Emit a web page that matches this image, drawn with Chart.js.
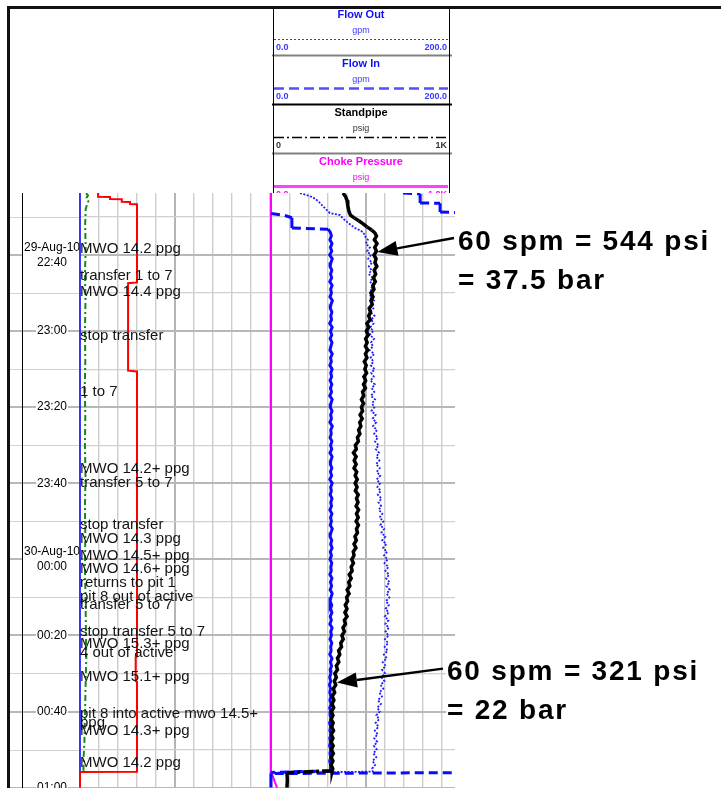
<!DOCTYPE html>
<html>
<head>
<meta charset="utf-8">
<script src="https://cdn.jsdelivr.net/npm/chart.js@4.4.1/dist/chart.umd.min.js"></script>
<style>
html,body{margin:0;padding:0;background:#fff;overflow:hidden;width:721px;height:788px;}
canvas{position:absolute;top:0;}
#left{left:0;}
#right{left:262px;}
.frame{position:absolute;background:#111;z-index:3;}
</style>
</head>
<body>
<canvas id="left" width="272" height="800"></canvas>
<canvas id="right" width="459" height="800"></canvas>
<div class="frame" style="left:7px;top:6px;width:714px;height:3px"></div>
<div class="frame" style="left:7px;top:6px;width:3px;height:782px"></div>
<div class="frame" style="left:22px;top:193px;width:1px;height:595px;background:#000"></div>
<script>
// ---------- time axis (minutes after 22:00 on 29-Aug-10) ----------
const timeMin = 23.7;
const timeMax = 180.1;
const timeTickValues = [30, 40, 50, 60, 70, 80, 90, 100, 110, 120, 130, 140, 150, 160, 170, 180];
const timeTickLabels = ['', ['29-Aug-10', '22:40'], '', '23:00', '', '23:20', '', '23:40', '',
  ['30-Aug-10', '00:00'], '', '00:20', '', '00:40', '', '01:00'];

// ---------- track scales ----------
const leftGridValues = [0, 10, 20, 30, 40, 50, 60, 70, 80, 90, 100];
const rightGridGpm = [0, 20, 40, 60, 80, 100, 120, 140, 160, 180];
const flowAxisMax = 193.7;   // gpm at right edge of visible track
const psiAxisMax = 968.4;    // psi at right edge of visible track

// ---------- header ----------
const headerNames = ['Flow Out', 'Flow In', 'Standpipe', 'Choke Pressure'];
const headerUnits = ['gpm', 'gpm', 'psig', 'psig'];
const headerScaleMin = ['0.0', '0.0', '0', '0.0'];
const headerScaleMax = ['200.0', '200.0', '1K', '1.0K'];

// ---------- shared 1-minute sample times ----------
const bodyMinutes = [35,36,37,38,39,40,41,42,43,44,45,46,47,48,49,50,51,52,53,54,55,56,57,58,59,60,
  61,62,63,64,65,66,67,68,69,70,71,72,73,74,75,76,77,78,79,80,81,82,83,84,85,86,87,88,89,90,
  91,92,93,94,95,96,97,98,99,100,101,102,103,104,105,106,107,108,109,110,111,112,113,114,115,
  116,117,118,119,120,121,122,123,124,125,126,127,128,129,130,131,132,133,134,135,136,137,138,
  139,140,141,142,143,144,145,146,147,148,149,150,151,152,153,154,155,156,157,158,159,160,161,
  162,163,164,165,166,167,168,169,170,171,172,173,174,175];

// ---------- Standpipe pressure (psi) ----------
const sppHeadTime = [23.72, 24.6, 25.6, 27.0, 28.5, 29.5, 30.3, 31.0, 31.8, 32.6, 33.4, 34.2];
const sppHeadPsi  = [379, 392, 400, 404, 410, 418, 440, 462, 485, 505, 530, 547];
const sppBodyPsi = [
  555,544,558,546,555,542,553,547,557,543,
  551,539,549,536,542,526,537,526,533,517,
  524,514,522,505,514,502,512,498,506,497,
  509,497,505,491,501,494,503,489,498,487,
  497,482,488,476,487,476,482,469,480,467,
  473,461,468,455,460,444,449,434,448,438,
  448,437,451,443,454,443,453,444,459,450,
  458,448,461,450,459,448,460,450,455,442,
  449,437,447,433,437,425,434,422,427,412,
  422,409,415,401,411,398,403,391,400,389,
  400,386,392,379,386,373,380,367,371,356,
  362,350,357,344,350,336,344,333,341,328,
  335,322,331,321,330,318,326,316,327,319,
  329,317,326,316,327,318,328,317,326,316,
  325];
const sppTailTime = [175.6, 175.9, 176.1, 178, 180];
const sppTailPsi  = [322, 150, 84, 86, 84];

// ---------- Flow In (gpm, as displayed on the wrapped 0-200 track) ----------
const flowInHeadTime = [23.72, 23.9, 26.3, 26.4, 28.7, 28.8, 28.95, 29.0, 29.1, 29.5, 30.2, 32.9, 33.2, 33.8, 34.4];
const flowInHeadGpm  = [139, 157, 157, 178, 178, 192, 205, null, 0, 13, 22, 22, 60, 62, 63];
const flowInBodyGpm = [
  63.5,62.0,64.2,62.6,63.9,61.8,64.5,63.0,62.2,64.0,
  62.7,63.8,61.9,64.3,62.8,63.6,62.1,64.6,63.1,62.4,
  64.1,62.9,63.7,61.8,64.4,62.6,63.9,62.3,64.2,63.0,
  62.1,64.5,62.7,63.5,62.0,64.3,62.9,63.8,62.2,64.0,
  62.6,63.7,61.9,64.4,63.1,62.4,64.2,62.8,63.6,62.0,
  64.5,62.9,63.4,62.2,64.1,62.7,63.9,62.1,64.3,63.0,
  62.5,64.0,62.6,63.8,61.9,64.4,62.8,63.5,62.3,64.2,
  62.9,63.7,62.0,64.1,62.7,63.6,62.4,64.5,63.0,62.2,
  63.9,62.8,64.3,62.5,63.6,62.1,64.0,62.9,63.4,62.0,
  64.2,62.6,63.8,62.3,64.4,63.1,62.2,63.9,62.7,64.1,
  62.4,63.5,62.0,64.3,62.9,63.6,62.1,64.0,62.8,63.3,
  61.9,64.2,62.6,63.7,62.3,63.0,61.8,62.9,61.6,62.7,
  61.9,63.1,62.0,63.3,61.8,62.9,62.2,63.4,61.7,62.8,
  62.0,63.2,61.9,62.6,61.7,62.9,62.1,63.0,61.8,62.7,
  62.2];
const flowInTailTime = [175.6, 176.0, 176.02, 176.05, 176.3, 180];
const flowInTailGpm  = [63, 0, null, 205, 0, 0];

// ---------- Flow Out (gpm, displayed) ----------
const flowOutHeadTime = [23.72, 24.2, 24.8, 25.8, 26.9, 28.0, 28.97, 29.5, 30.4, 31.3, 32.1, 32.9, 33.5, 34.0, 34.5];
const flowOutHeadGpm  = [30.5, 36.8, 44, 49.5, 53.7, 58, 62, 72.6, 75.8, 80, 84, 88.4, 93.7, 96.8, 98];
const flowOutBodyGpm = [
  98.5,102.0,99.8,104.1,101.2,105.0,102.3,106.4,103.0,105.8,
  102.9,107.2,104.1,108.0,104.5,107.3,103.6,108.4,105.0,107.9,
  104.2,109.0,105.6,108.1,104.4,107.7,103.9,108.5,105.2,107.4,
  103.8,108.6,104.9,107.8,105.0,109.1,105.5,108.2,104.6,109.4,
  106.0,108.7,105.1,109.6,106.3,108.9,105.7,110.2,107.0,110.8,
  107.4,111.5,108.6,112.4,109.5,113.3,110.2,113.8,110.9,114.1,
  110.6,114.5,111.3,115.0,111.2,114.8,112.0,115.6,112.4,116.3,
  113.1,116.0,113.5,117.2,114.3,118.4,115.0,119.1,116.2,120.3,
  117.1,121.4,118.0,122.2,118.9,122.8,119.5,123.6,120.4,124.3,
  121.2,124.9,121.5,125.0,121.8,124.6,121.0,124.2,120.6,123.9,
  119.8,123.7,120.3,124.1,120.5,123.8,119.9,123.4,119.6,122.9,
  118.8,121.9,117.6,120.8,116.9,120.1,116.2,119.4,115.3,118.2,
  114.0,116.8,112.5,115.7,111.8,114.6,110.9,113.9,110.1,113.2,
  109.3,112.4,108.6,111.9,108.2,111.3,107.6,110.8,106.9,109.7,
  106.5];
const flowOutTailTime = [175.8, 176.1, 180];
const flowOutTailGpm  = [107, 0, 0];

// ---------- Choke pressure (psi) ----------
const chokeTime = [23.72, 176.0, 176.8, 178.5, 180];
const chokePsi  = [0, 0, 8, 20, 32];

// ---------- Left track (0-100 scale) ----------
const redTime = [23.72, 24.7, 24.75, 25.3, 25.35, 26.0, 26.05, 26.6, 26.65, 47.2, 47.4, 70.4, 70.6,
  145.5, 145.7, 152.0, 152.2, 175.8, 175.9, 180];
const redVal  = [9.5, 9.5, 15.8, 15.8, 22, 22, 26.3, 26.3, 30, 30, 25.3, 25.3, 30,
  30, 29.3, 29.3, 30, 30, 0, 0];
const greenTime = [23.72, 24.3, 25.0, 25.8, 26.8, 28.0, 32, 38, 45, 52, 60, 68, 75, 82, 90, 98, 106,
  114, 122, 130, 138, 146, 154, 162, 168, 172, 175.8];
const greenVal  = [3.2, 4.2, 3.4, 4.4, 3.6, 3.0, 2.7, 3.0, 2.6, 2.9, 2.6, 2.8, 2.5, 2.8, 2.6, 2.9, 2.6,
  2.8, 2.6, 2.9, 3.1, 3.3, 2.9, 2.6, 2.3, 1.9, 1.8];
const blueTime = [23.72, 180];
const blueVal  = [0, 0];

// ---------- Event comments ----------
const commentTimes = [38.4, 45.5, 49.7, 61.3, 76.0, 96.2, 99.87, 110.9, 114.58, 119.04, 122.46, 126.13,
  129.81, 131.91, 139.0, 142.15, 144.52, 150.82, 160.54, 162.9, 165.0, 173.4];
const commentTexts = ['MWO 14.2 ppg', 'transfer 1 to 7', 'MWO 14.4 ppg', 'stop transfer', '1 to 7',
  'MWO 14.2+ ppg', 'transfer 5 to 7', 'stop transfer', 'MWO 14.3 ppg', 'MWO 14.5+ ppg', 'MWO 14.6+ ppg',
  'returns to pit 1', 'pit 8 out of active', 'transfer 5 to 7', 'stop transfer 5 to 7', 'MWO 15.3+ ppg',
  '4 out of active', 'MWO 15.1+ ppg', 'pit 8 into active mwo 14.5+', 'ppg', 'MWO 14.3+ ppg', 'MWO 14.2 ppg'];

// ---------- Callouts ----------
const calloutTime = [39.2, 152.4];
const calloutPsi = [560, 347];
const calloutLine1 = ['60 spm = 544 psi', '60 spm = 321 psi'];
const calloutLine2 = ['= 37.5 bar', '= 22 bar'];

// ====================================================================
const FONT = '"Liberation Sans", Arial, Helvetica, sans-serif';
Chart.defaults.font.family = FONT;
Chart.defaults.animation = false;

const ptsOf = (times, vals) => times.map((t, i) => ({ x: vals[i], y: t }));
const flatDash = pattern => c => (Math.abs(c.p1.x - c.p0.x) > 1.5 * Math.abs(c.p1.y - c.p0.y) ? pattern : undefined);

const isMajorTime = v => Math.round(v) % 20 === 0;
const hGridColor = c => (c.tick && isMajorTime(c.tick.value)) ? '#b8b8b8' : '#d0d0d0';
const hGridWidth = c => (c.tick && isMajorTime(c.tick.value)) ? 2 : 1.2;
const TICK_FONT_SIZE = 12, TICK_LINE_HEIGHT = 1.3;

function timeAxis(showLabels) {
  return {
    type: 'linear', position: 'left', reverse: true, min: timeMin, max: timeMax,
    afterBuildTicks: s => { s.ticks = timeTickValues.map(v => ({ value: v })); },
    afterFit: s => { s.width = showLabels ? 58 : 0; },
    border: { display: false },
    grid: { drawTicks: false, color: hGridColor, lineWidth: hGridWidth },
    ticks: showLabels ? {
      display: true, crossAlign: 'center', padding: 0, color: '#000',
      font: { size: TICK_FONT_SIZE, lineHeight: TICK_LINE_HEIGHT },
      callback: v => timeTickLabels[timeTickValues.indexOf(v)],
      showLabelBackdrop: c => { const l = timeTickLabels[c.index]; return !!l && !Array.isArray(l); },
      backdropColor: '#fff', backdropPadding: 1
    } : { display: false }
  };
}

function valueAxis(min, max, gridValues, majorValue, show) {
  return {
    type: 'linear', axis: 'x', position: 'bottom', min: min, max: max, display: show,
    afterBuildTicks: s => { s.ticks = gridValues.map(v => ({ value: v })); },
    afterFit: s => { s.height = 0; },
    border: { display: false },
    ticks: { display: false },
    grid: {
      drawTicks: false,
      color: c => (c.tick && c.tick.value === majorValue) ? '#b4b4b4' : '#cdcdcd',
      lineWidth: c => (c.tick && c.tick.value === majorValue) ? 2 : 1.4
    }
  };
}

// ---------- left chart plugin ----------
const leftDecor = {
  id: 'leftDecor',
  beforeDraw(chart) {
    const ctx = chart.ctx, ys = chart.scales.y, a = chart.chartArea;
    ctx.save();
    ys.ticks.forEach(t => {
      const major = isMajorTime(t.value);
      const y = Math.round(ys.getPixelForValue(t.value)) + (major ? 0 : 0.5);
      ctx.strokeStyle = major ? '#b8b8b8' : '#d0d0d0';
      ctx.lineWidth = major ? 2 : 1.2;
      ctx.beginPath(); ctx.moveTo(10, y); ctx.lineTo(a.left, y); ctx.stroke();
    });
    // white background under two-line (date + time) labels
    ctx.font = TICK_FONT_SIZE + 'px ' + FONT;
    let widest = 0;
    timeTickLabels.forEach(l => [].concat(l).forEach(s => { widest = Math.max(widest, ctx.measureText(s).width); }));
    const cx = ys.right - widest / 2;
    const lh = TICK_FONT_SIZE * TICK_LINE_HEIGHT;
    ctx.fillStyle = '#fff';
    timeTickValues.forEach((v, i) => {
      const l = timeTickLabels[i];
      if (!Array.isArray(l)) return;
      const w = Math.max(...l.map(s => ctx.measureText(s).width)) + 2;
      const h = l.length * lh;
      const y = ys.getPixelForValue(v);
      ctx.fillRect(cx - w / 2, y - h / 2, w, h);
    });
    ctx.restore();
  },
  afterDatasetsDraw(chart) {
    const ctx = chart.ctx, ys = chart.scales.y, a = chart.chartArea;
    ctx.save();
    ctx.font = '15px ' + FONT;
    ctx.fillStyle = '#141414';
    ctx.textAlign = 'left';
    ctx.textBaseline = 'middle';
    commentTimes.forEach((t, i) => ctx.fillText(commentTexts[i], a.left, ys.getPixelForValue(t)));
    ctx.restore();
  }
};

// ---------- right chart plugin ----------
const headerStyle = [
  { title: '#1010f0', text: '#3a3aff', line: '#3a3aff', width: 1, dash: [2, 2], sep: '#808080' },
  { title: '#1010f0', text: '#3a3aff', line: '#5050ff', width: 2.5, dash: [10, 5], sep: '#000' },
  { title: '#000', text: '#333', line: '#000', width: 1.5, dash: [10, 3, 2, 3], sep: '#808080' },
  { title: '#ff00ff', text: '#ff00ff', line: '#ff40ff', width: 3, dash: [], sep: null }
];

function drawHeader(chart) {
  const ctx = chart.ctx;
  const off = chart.canvas.offsetLeft;
  const L = 273, R = 449, C = (L + R) / 2, top0 = 8.5, step = 49;
  ctx.save();
  ctx.translate(-off, 0);
  ctx.beginPath(); ctx.rect(L - 3, 9, R - L + 8, 184); ctx.clip();
  ctx.textBaseline = 'middle';
  headerNames.forEach((name, i) => {
    const s = headerStyle[i], t = top0 + i * step;
    ctx.fillStyle = s.title; ctx.font = 'bold 11px ' + FONT; ctx.textAlign = 'center';
    ctx.fillText(name, C, t + 6);
    ctx.fillStyle = s.text; ctx.font = '9px ' + FONT;
    ctx.fillText(headerUnits[i], C, t + 22);
    ctx.strokeStyle = s.line; ctx.lineWidth = s.width; ctx.setLineDash(s.dash);
    ctx.beginPath(); ctx.moveTo(L + 1, t + 31); ctx.lineTo(R - 1, t + 31); ctx.stroke();
    ctx.setLineDash([]);
    ctx.font = 'bold 9px ' + FONT;
    ctx.textAlign = 'left'; ctx.fillText(headerScaleMin[i], L + 3, t + 39);
    ctx.textAlign = 'right'; ctx.fillText(headerScaleMax[i], R - 2, t + 39);
    if (s.sep) {
      ctx.strokeStyle = s.sep; ctx.lineWidth = 2;
      ctx.beginPath(); ctx.moveTo(L - 1, t + 47); ctx.lineTo(R + 3, t + 47); ctx.stroke();
    }
  });
  ctx.strokeStyle = '#000'; ctx.lineWidth = 1;
  ctx.beginPath();
  ctx.moveTo(L + 0.5, 9); ctx.lineTo(L + 0.5, 193);
  ctx.moveTo(R + 0.5, 9); ctx.lineTo(R + 0.5, 193);
  ctx.stroke();
  ctx.restore();
}

const calloutDx = [3, -8];
const calloutBackdrop = [false, true];

function drawCallouts(chart) {
  const ctx = chart.ctx, ys = chart.scales.y, xp = chart.scales.xPsi, a = chart.chartArea;
  ctx.save();
  calloutTime.forEach((t, i) => {
    const tipX = xp.getPixelForValue(calloutPsi[i]);
    const tipY = ys.getPixelForValue(t);
    const left = a.right + calloutDx[i];
    const c1 = tipY - 10, c2 = tipY + 29;
    if (calloutBackdrop[i]) {
      ctx.fillStyle = '#fff';
      ctx.fillRect(left - 1, c1 - 16, 300, 72);
    }
    ctx.font = 'bold 28px ' + FONT;
    if ('letterSpacing' in ctx) ctx.letterSpacing = '1.8px';
    ctx.fillStyle = '#000';
    ctx.textAlign = 'left';
    ctx.textBaseline = 'middle';
    ctx.fillText(calloutLine1[i], left, c1);
    ctx.fillText(calloutLine2[i], left, c2);
    if ('letterSpacing' in ctx) ctx.letterSpacing = '0px';
    // arrow
    const tx = left - 4, ty = c1 - 4;
    const ang = Math.atan2(tipY - ty, tipX - tx);
    const hl = 20, hw = 7.5;
    const bx = tipX - hl * Math.cos(ang), by = tipY - hl * Math.sin(ang);
    ctx.strokeStyle = '#000'; ctx.lineWidth = 2.5;
    ctx.beginPath(); ctx.moveTo(tx, ty); ctx.lineTo(bx, by); ctx.stroke();
    ctx.fillStyle = '#000';
    ctx.beginPath();
    ctx.moveTo(tipX, tipY);
    ctx.lineTo(bx + hw * Math.sin(ang), by - hw * Math.cos(ang));
    ctx.lineTo(bx - hw * Math.sin(ang), by + hw * Math.cos(ang));
    ctx.closePath(); ctx.fill();
  });
  ctx.restore();
}

const rightDecor = {
  id: 'rightDecor',
  afterDraw(chart) { drawHeader(chart); drawCallouts(chart); }
};

// ---------- build series ----------
const sppPoints = ptsOf([...sppHeadTime, ...bodyMinutes, ...sppTailTime], [...sppHeadPsi, ...sppBodyPsi, ...sppTailPsi]);
const flowInPoints = ptsOf([...flowInHeadTime, ...bodyMinutes, ...flowInTailTime], [...flowInHeadGpm, ...flowInBodyGpm, ...flowInTailGpm]);
const flowOutPoints = ptsOf([...flowOutHeadTime, ...bodyMinutes, ...flowOutTailTime], [...flowOutHeadGpm, ...flowOutBodyGpm, ...flowOutTailGpm]);
const chokePoints = ptsOf(chokeTime, chokePsi);
const edgeClip = { left: 3, right: 0, top: 0, bottom: 0 };

new Chart(document.getElementById('left'), {
  type: 'line',
  data: {
    datasets: [
      { label: 'Pit volume', data: ptsOf(redTime, redVal), borderColor: '#ff0000', borderWidth: 2, pointRadius: 0, clip: edgeClip },
      { label: 'Trip tank', data: ptsOf(greenTime, greenVal), borderColor: '#138a13', borderWidth: 2, borderDash: [6, 3, 2, 3], pointRadius: 0, clip: edgeClip },
      { label: 'Gain/loss', data: ptsOf(blueTime, blueVal), borderColor: '#0000ff', borderWidth: 1.5, pointRadius: 0, clip: edgeClip }
    ]
  },
  options: {
    responsive: false, animation: false, indexAxis: 'y',
    layout: { padding: { left: 22, right: 2, top: 193, bottom: 12 } },
    plugins: { legend: { display: false }, tooltip: { enabled: false } },
    elements: { line: { tension: 0 } },
    scales: {
      x: valueAxis(0, 100, leftGridValues, 50, true),
      y: timeAxis(true)
    }
  },
  plugins: [leftDecor]
});

new Chart(document.getElementById('right'), {
  type: 'line',
  data: {
    datasets: [
      { label: 'Standpipe', xAxisID: 'xPsi', yAxisID: 'y', data: sppPoints, borderColor: '#000', borderWidth: 3.5,
        pointRadius: 0, segment: { borderDash: flatDash([10, 3, 3, 3]) } },
      { label: 'Flow In', xAxisID: 'xFlow', yAxisID: 'y', data: flowInPoints, borderColor: '#0a0aff', borderWidth: 3,
        pointRadius: 0, clip: edgeClip, segment: { borderDash: flatDash([9, 5]) } },
      { label: 'Flow Out', xAxisID: 'xFlow', yAxisID: 'y', data: flowOutPoints, borderColor: '#1e1eff', borderWidth: 1.8,
        borderDash: [2, 1.5], pointRadius: 0, clip: edgeClip },
      { label: 'Choke Pressure', xAxisID: 'xPsi', yAxisID: 'y', data: chokePoints, borderColor: '#ff00ff', borderWidth: 2,
        pointRadius: 0, clip: edgeClip }
    ]
  },
  options: {
    responsive: false, animation: false, indexAxis: 'y',
    layout: { padding: { left: 9, right: 266, top: 193, bottom: 12 } },
    plugins: { legend: { display: false }, tooltip: { enabled: false } },
    elements: { line: { tension: 0 } },
    scales: {
      xFlow: valueAxis(0, flowAxisMax, rightGridGpm, 100, true),
      xPsi: { type: 'linear', axis: 'x', position: 'bottom', min: 0, max: psiAxisMax, display: false },
      y: timeAxis(false)
    }
  },
  plugins: [rightDecor]
});
</script>
</body>
</html>
